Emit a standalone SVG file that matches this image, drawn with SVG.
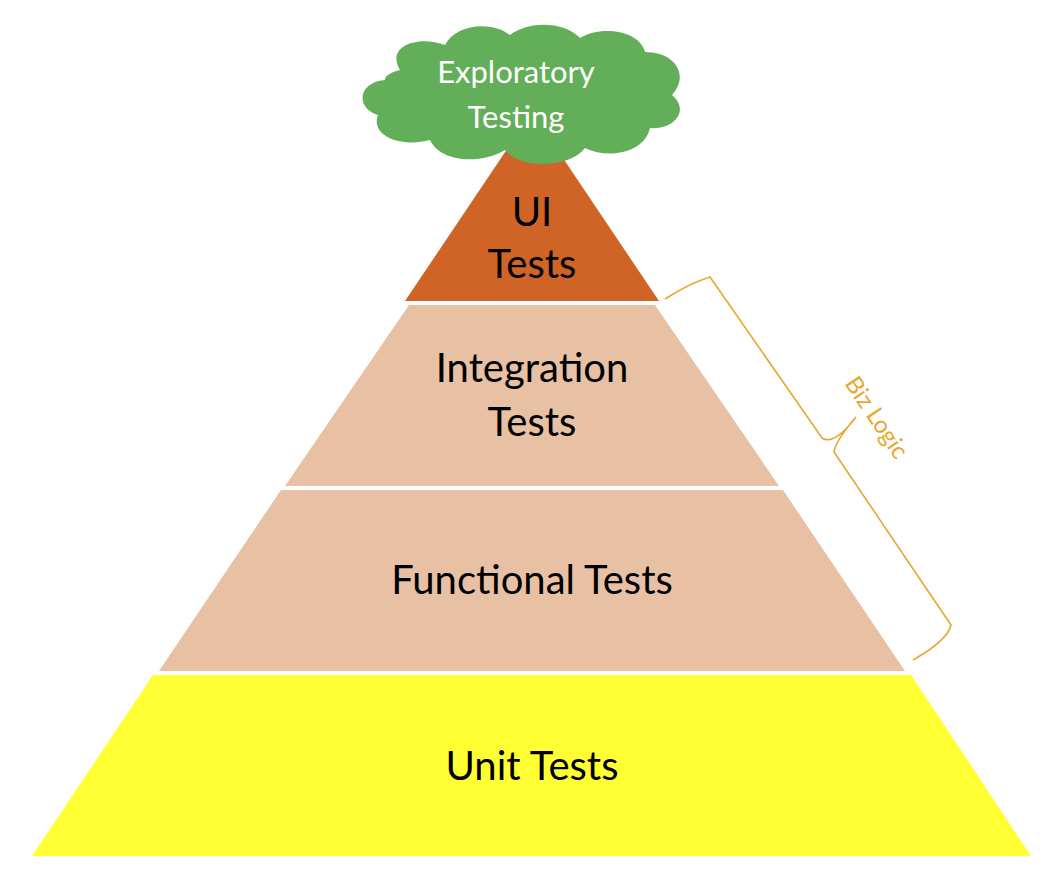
<svg xmlns="http://www.w3.org/2000/svg" width="1063" height="882" viewBox="0 0 1063 882">
<style>
.t{font-family:Lato,"Open Sans",sans-serif;font-size:40px;fill:#000;text-anchor:middle}
.c{font-family:Lato,"Open Sans",sans-serif;font-size:31px;fill:#fff;text-anchor:middle}
.b{fill:none;stroke:#E9A632;stroke-width:1.6}
</style>
<rect width="1063" height="882" fill="#fff"/>
<g id="unit"><polygon points="153,675 911,675 1031,856 32,856" fill="#FFFF33"/><text class="t" x="532" y="780">Unit Tests</text></g>
<g id="functional"><polygon points="281,490 783,490 905,671 159,671" fill="#E8C0A4"/><text class="t" x="532" y="594">Functional Tests</text></g>
<g id="integration"><polygon points="409,305 655,305 779,486 285,486" fill="#E8C0A4"/><text class="t" x="532" y="382">Integration</text><text class="t" x="532" y="436">Tests</text></g>
<g id="ui"><polygon points="532,112 659,301 405,301" fill="#D06427"/><text class="t" x="532" y="226">UI</text><text class="t" x="532" y="278">Tests</text></g>
<g id="cloud"><path fill="#63AE58" d="M400,70 C385,45 420,35 445,45 C455,25 490,20 510,35 C530,20 565,22 580,38 C600,25 640,30 645,52 C675,52 690,75 672,95 C690,110 675,130 650,128 C645,152 610,160 585,148 C570,168 520,170 505,150 C480,165 440,162 430,140 C400,148 370,135 378,115 C355,108 358,82 385,80 C385,75 392,72 400,70 Z"/><text class="c" x="516" y="83">Exploratory</text><text class="c" x="516" y="128">Testing</text></g>
<g id="connectors"><path class="b" d="M665,299 Q690,283 710,277 L822,438 Q834,446 856,417 Q836,440 834,452 L951,625 Q948,640 913,660"/></g>
<text x="870" y="422" transform="rotate(56 870 422)" style="font-family:Lato,'Open Sans',sans-serif;font-size:24px;fill:#E9A632;text-anchor:middle">Biz Logic</text>
</svg>
